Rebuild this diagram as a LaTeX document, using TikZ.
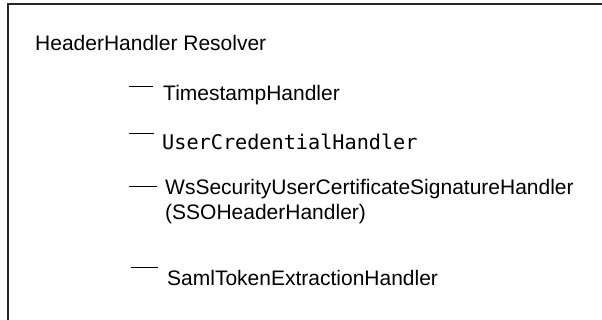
\documentclass[tikz,border=0pt]{standalone}
\usepackage{fontspec}
\setmainfont{Liberation Sans}
\newfontfamily\codefont{DejaVu Sans Mono}
\begin{document}
\begin{tikzpicture}[x=1pt,y=-1pt,
  lbl/.style={inner sep=0pt,anchor=base west,font=\fontsize{21}{25}\selectfont,text=black},
  codelbl/.style={lbl,font=\fontsize{20.2}{25}\selectfont\codefont},
  tick/.style={draw=black,line width=0.9pt},
  frame/.style={draw=black!85,line width=1.3pt}]
\useasboundingbox (0,0) rectangle (602,320);
% frame (open to right and bottom)
\coordinate (fb) at (8,322);
\coordinate (fc) at (8,4);
\coordinate (fr) at (604,4);
\draw[frame] (fb) -- (fc) -- (fr);
% texts
\node[lbl] (root) at (35,51) {HeaderHandler Resolver};
\node[lbl] (ts) at (163,101) {TimestampHandler};
\node[codelbl] (uc) at (162,150) {UserCredentialHandler};
% base anchor of a multi-line node is the baseline of its last line
\node[lbl,align=left] (ws) at (165,220) {WsSecurityUserCertificateSignatureHandler\\(SSOHeaderHandler)};
\node[lbl] (saml) at (167,285) {SamlTokenExtractionHandler};
% ticks
\coordinate (a1) at (129,86);  \coordinate (b1) at (153,86);
\coordinate (a2) at (129,133); \coordinate (b2) at (154,133);
\coordinate (a3) at (129,186); \coordinate (b3) at (157,186);
\coordinate (a4) at (131,267); \coordinate (b4) at (158,267);
\draw[tick] (a1) -- (b1);
\draw[tick] (a2) -- (b2);
\draw[tick] (a3) -- (b3);
\draw[tick] (a4) -- (b4);
\end{tikzpicture}
\end{document}
